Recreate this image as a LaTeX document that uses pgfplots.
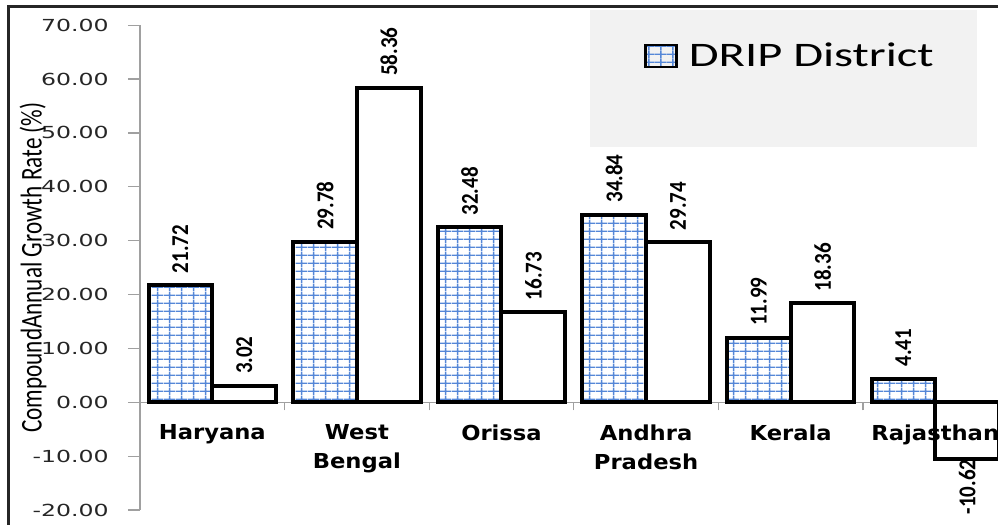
\documentclass[border=0pt]{standalone}
\usepackage{fontspec}
\usepackage{pgfplots}
\pgfplotsset{compat=1.18}
\usetikzlibrary{patterns}
\setmainfont{Carlito}
\newfontfamily\tickfont{DejaVu Sans}[FakeStretch=1.42]
\newfontfamily\catfont{DejaVu Sans}[FakeStretch=1.1]
\newfontfamily\legfont{Carlito}[FakeStretch=1.41]
\definecolor{gridblue}{RGB}{85,135,215}
\definecolor{legbg}{RGB}{242,242,242}
\definecolor{axgray}{RGB}{160,160,160}
\pgfdeclarepatternformonly{bluegrid}{\pgfqpoint{0pt}{0pt}}{\pgfqpoint{5.85pt}{4.1pt}}{\pgfqpoint{5.85pt}{4.1pt}}{%
  \pgfsetlinewidth{0.75pt}%
  \pgfpathmoveto{\pgfqpoint{2.925pt}{0pt}}\pgfpathlineto{\pgfqpoint{2.925pt}{4.1pt}}%
  \pgfpathmoveto{\pgfqpoint{0pt}{2.05pt}}\pgfpathlineto{\pgfqpoint{5.85pt}{2.05pt}}%
  \pgfusepath{stroke}}
\begin{document}
\begin{tikzpicture}
% chart area border and legend background
\fill[legbg] (225pt,181.5pt) rectangle (418.5pt,250pt);
\draw[black!85, line width=1.5pt] (-65.75pt,-12pt) -- (-65.75pt,251.75pt) -- (440pt,251.75pt);
\begin{axis}[
  at={(0pt,0pt)}, anchor=south west,
  scale only axis, width=433.8pt, height=242.4pt,
  xmin=-0.5, xmax=5.5, ymin=-20, ymax=70,
  axis x line=middle, axis y line=left,
  x axis line style={-, draw=axgray, line width=0.6pt},
  y axis line style={-, draw=axgray, line width=0.6pt},
  tick align=outside,
  major tick length=6pt, minor tick length=4pt,
  tick style={draw=axgray, line width=0.6pt},
  xtick={0,1,2,3,4,5},
  xticklabels={Haryana,{West\\Bengal},Orissa,{Andhra\\Pradesh},Kerala,{}},
  major x tick style={draw=none},
  minor xtick={0.5,1.5,2.5,3.5,4.5},
  xticklabel style={font=\catfont\bfseries\fontsize{10.3}{14.5}\selectfont, align=center, anchor=north, inner sep=0pt, yshift=-5pt},
  ytick={-20,-10,0,10,20,30,40,50,60,70},
  yticklabels={-20.00,-10.00,0.00,10.00,20.00,30.00,40.00,50.00,60.00,70.00},
  yticklabel style={font=\tickfont\fontsize{8.3}{10}\selectfont, text=black!85, anchor=east, inner sep=0pt, xshift=-9.5pt},
  ylabel={\scalebox{1}[1.3]{CompoundAnnual Growth Rate (\%)}},
  every axis y label/.style={at={(axis description cs:-0.1233,0.5)}, rotate=90, anchor=center, font=\fontsize{11.6}{13}\selectfont},
  ybar, bar width=0.441,
  point meta=explicit symbolic,
  nodes near coords={\rotatebox{90}{\scalebox{1}[1.15]{\pgfplotspointmeta}}},
  every node near coord/.append style={font=\bfseries\fontsize{10.5}{12}\selectfont, text=black, inner sep=5pt},
  legend style={at={(axis description cs:0.581,0.9365)}, anchor=west, draw=none, fill=none, inner sep=0pt,
    font=\legfont\fontsize{17.2}{20}\selectfont, legend cell align=left,
    /tikz/every odd column/.append style={column sep=3.5pt}},
  legend image code/.code={\draw[#1, line width=1.2pt] (0pt,-5.5pt) rectangle (15.5pt,5.5pt);},
]
\addplot[bar shift=-0.2205, draw=black, line width=2pt, pattern=bluegrid, pattern color=gridblue]
  coordinates {(0,21.72) [21.72] (1,29.78) [29.78] (2,32.48) [32.48] (3,34.84) [34.84] (4,11.99) [11.99] (5,4.41) [4.41]};
\addplot[bar shift=0.2205, draw=black, line width=2pt, fill=white]
  coordinates {(0,3.02) [3.02] (1,58.36) [58.36] (2,16.73) [16.73] (3,29.74) [29.74] (4,18.36) [18.36]};
\addplot[bar shift=0.2205, draw=black, line width=2pt, fill=white,
  every node near coord/.append style={anchor=north, inner sep=0pt, yshift=1pt}]
  coordinates {(5,-10.62) [-10.62]};
\legend{DRIP District}
\node[anchor=north, inner sep=0pt, yshift=-11pt, font=\catfont\bfseries\fontsize{10.3}{14.5}\selectfont] at (axis cs:5,0) {Rajasthan};
\end{axis}
\pgfresetboundingbox
\path[use as bounding box] (-70pt,-7.5pt) rectangle (429pt,255pt);
\end{tikzpicture}
\end{document}
